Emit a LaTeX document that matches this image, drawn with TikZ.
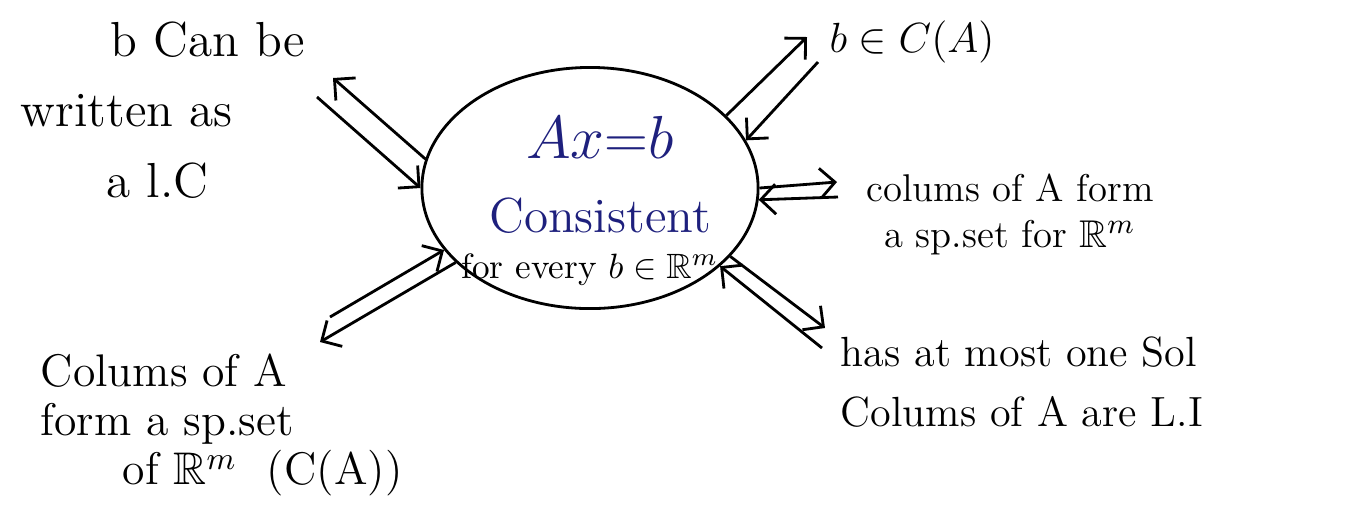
\documentclass[tikz,border=0pt]{standalone}
\usepackage{amssymb}
\usetikzlibrary{arrows.meta,shapes.geometric}
\definecolor{inkblue}{RGB}{30,32,125}
\begin{document}
\begin{tikzpicture}[x=0.01cm,y=-0.01cm,>={Straight Barb[length=1.5mm,width=3mm]},
    blob/.style={draw,thick,ellipse,inner sep=0pt,minimum width=3.36cm,minimum height=2.41cm},
    note/.style={inner sep=0pt,align=left},
    link/.style={thick,->}]
  \useasboundingbox (0,0) rectangle (1366,517);
  \node[blob] (ell) at (590,188) {};
  \node[anchor=base,inner sep=0pt,text=inkblue,font=\fontsize{16}{20}\selectfont] (axb) at (600,158) {$Ax{=}b$};
  \node[anchor=base,inner sep=0pt,text=inkblue,font=\fontsize{14}{20}\selectfont] (cons) at (600,232) {Consistent};
  \node[anchor=base,inner sep=0pt,font=\fontsize{10}{12}\selectfont] (every) at (590,278) {for every $b\in\mathbb{R}^m$};
  \node[note,anchor=north west,font=\fontsize{14}{20}\selectfont] (lc) at (20,21)
       {\hspace*{0.9cm}b Can be\\written as\\\hspace*{0.86cm}a l.C};
  \node[anchor=base,inner sep=0pt,font=\fontsize{13}{16}\selectfont] (colspace) at (912,52) {$b\in C(A)$};
  \node[note,align=center,anchor=north,font=\fontsize{11}{13}\selectfont] (span) at (1010,173)
       {colums of A form\\a sp.set for $\mathbb{R}^m$};
  \node[note,anchor=north west,font=\fontsize{12}{17}\selectfont] (indep) at (840,336)
       {has at most one Sol\\Colums of A are L.I};
  \node[note,anchor=north west,font=\fontsize{13}{14}\selectfont] (spset) at (40,353)
       {Colums of A\\form a sp.set\\\hspace*{0.82cm}of $\mathbb{R}^m$ \ (C(A))};
  \coordinate (lc-out) at (333,78);
  \coordinate (lc-in) at (317,97);
  \coordinate (colspace-out) at (807,37);
  \coordinate (colspace-in) at (818,62);
  \coordinate (span-out) at (837,182);
  \coordinate (span-in) at (838,197);
  \coordinate (indep-out) at (825,328);
  \coordinate (indep-in) at (822,348);
  \coordinate (spset-out) at (320,342);
  \coordinate (spset-in) at (330,317);
  \draw[link] (ell.170.6) -- (lc-out);
  \draw[link] (lc-in) -- (ell.180);
  \draw[link] (ell.28.8) -- (colspace-out);
  \draw[link] (colspace-in) -- (ell.17.8);
  \draw[link] (ell.0) -- (span-out);
  \draw[link] (span-in) -- (ell.-4.3);
  \draw[link] (ell.-26.7) -- (indep-out);
  \draw[link] (indep-in) -- (ell.-31.9);
  \draw[link] (ell.209) -- (spset-out);
  \draw[link] (spset-in) -- (ell.203.6);
\end{tikzpicture}
\end{document}
